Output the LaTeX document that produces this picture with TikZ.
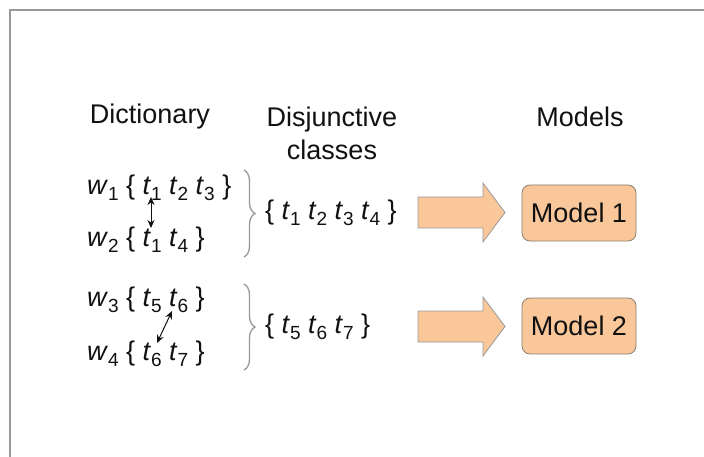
\documentclass[tikz,border=0pt]{standalone}
\usepackage{fontspec}
\setmainfont{Liberation Sans}
\usetikzlibrary{decorations.pathreplacing,arrows.meta}
\definecolor{orfill}{HTML}{F9C79A}
\definecolor{orline}{HTML}{8A8070}
\definecolor{frame}{HTML}{999999}
\definecolor{txt}{HTML}{111111}
\newcommand{\subd}[1]{\raisebox{-6pt}{\fontsize{19}{19}\selectfont #1}}
\newcommand{\wi}[1]{\textit{w}\subd{#1}}
\newcommand{\ti}[1]{\textit{t}\subd{#1}}
\tikzset{
  lbl/.style={inner sep=0pt, text=txt, font=\fontsize{27}{33}\selectfont},
  row/.style={lbl, anchor=west},
  modelbox/.style={lbl, draw=orline, line width=0.8pt, fill=orfill, rounded corners=8pt, minimum width=114pt, minimum height=56pt},
  blockarrow/.style={fill=orfill, draw=frame, line width=0.8pt},
  bracepath/.style={draw=frame, line width=1.3pt, decorate, decoration={brace, amplitude=11pt}},
  link/.style={draw=txt, line width=1pt, {Stealth[length=8pt,width=7pt]}-{Stealth[length=8pt,width=7pt]}}
}
\begin{document}
\begin{tikzpicture}[x=1pt,y=-1pt]
\useasboundingbox (0,0) rectangle (704,457);
\fill[white] (0,0) rectangle (704,457);
\draw[frame, line width=2pt] (10,457) -- (10,10) -- (704,10);
% headers
\node[lbl] (hdict) at (150,117) {Dictionary};
\node[lbl, align=center] (hdisj) at (332,133) {Disjunctive\\classes};
\node[lbl] (hmod) at (580,117) {Models};
% dictionary rows
\node[row] (w1) at (87,188) {\wi{1} \{ \ti{1} \ti{2} \ti{3} \}};
\node[row] (w2) at (87,240) {\wi{2} \{ \ti{1} \ti{4} \}};
\node[row] (w3) at (87,300) {\wi{3} \{ \ti{5} \ti{6} \}};
\node[row] (w4) at (87,354) {\wi{4} \{ \ti{6} \ti{7} \}};
% links
\coordinate (a1) at (151,197);
\coordinate (a2) at (151,228);
\coordinate (b1) at (172,311);
\coordinate (b2) at (157,343);
\draw[link] (a1) -- (a2);
\draw[link] (b1) -- (b2);
% braces
\coordinate (br1t) at (244,170);
\coordinate (br1b) at (244,257);
\coordinate (br2t) at (244,284);
\coordinate (br2b) at (244,370);
\draw[bracepath] (br1t) -- (br1b);
\draw[bracepath] (br2t) -- (br2b);
% classes
\node[row] (c1) at (265,213) {\{ \ti{1} \ti{2} \ti{3} \ti{4} \}};
\node[row] (c2) at (265,327) {\{ \ti{5} \ti{6} \ti{7} \}};
% block arrows
\draw[blockarrow] (418,197) -- (483,197) -- (483,183) -- (505,212.5) -- (483,242) -- (483,228) -- (418,228) -- cycle;
\draw[blockarrow] (418,311) -- (483,311) -- (483,297) -- (505,326.5) -- (483,356) -- (483,342) -- (418,342) -- cycle;
% models
\node[modelbox] (m1) at (579,213) {Model 1};
\node[modelbox] (m2) at (579,326) {Model 2};
\end{tikzpicture}
\end{document}
